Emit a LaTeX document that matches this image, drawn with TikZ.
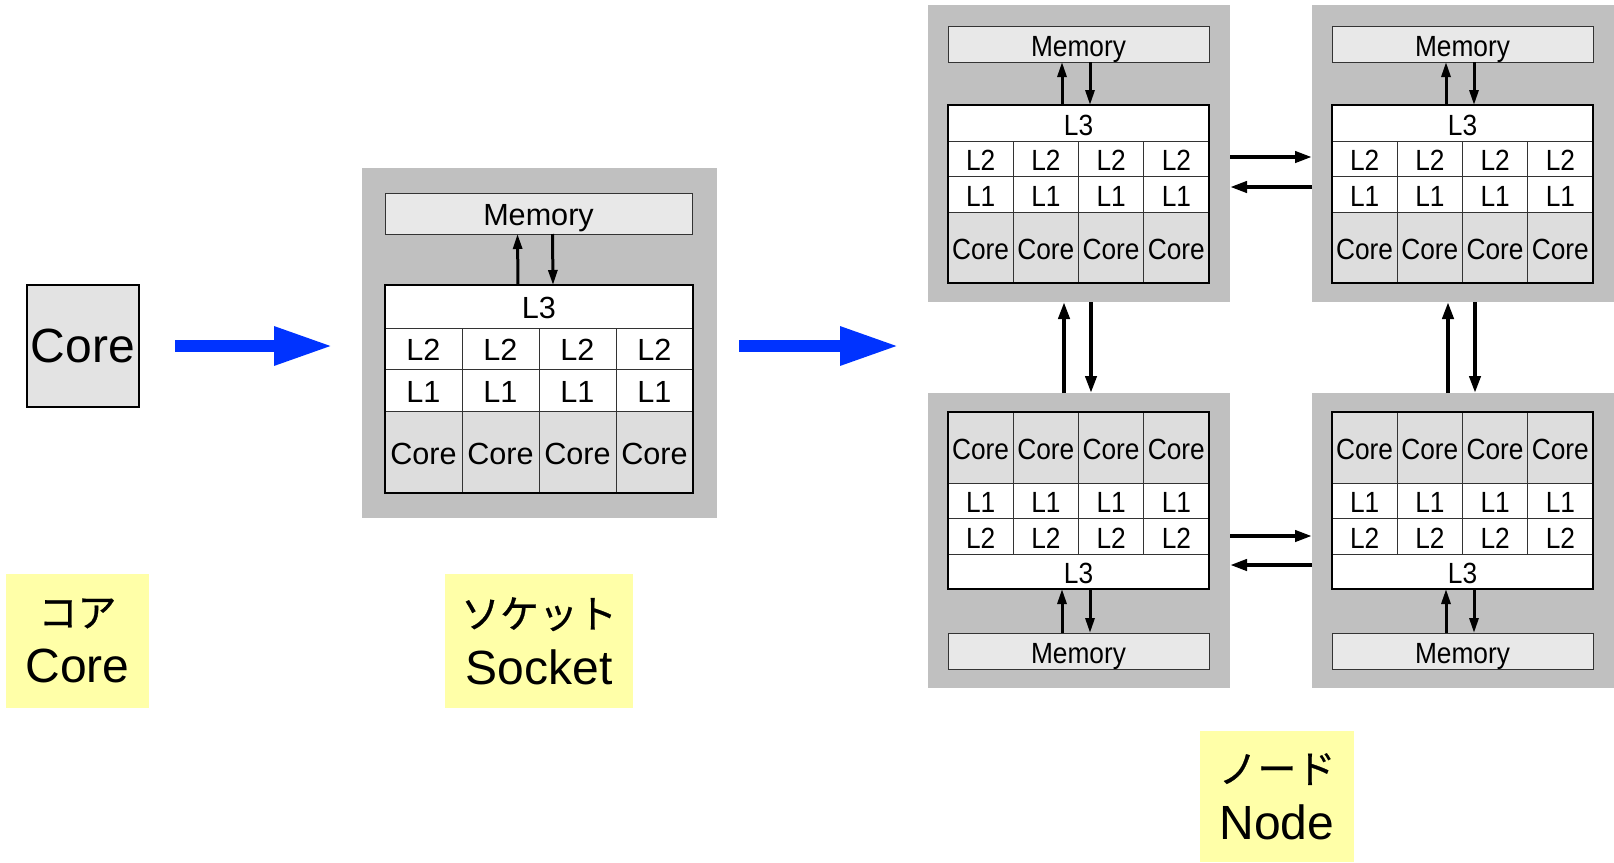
\documentclass[tikz,border=0pt]{standalone}
\usepackage{fontspec}
\setmainfont{Liberation Sans}
\newfontfamily\jpfont{Noto Sans CJK JP}[FakeBold=0.6]
\newfontfamily\narrowfont{Liberation Sans}[FakeStretch=0.9]
\usetikzlibrary{positioning}
\usetikzlibrary{arrows.meta}
\definecolor{boardgray}{RGB}{192,192,192}
\definecolor{memgray}{RGB}{232,232,232}
\definecolor{coregray}{RGB}{221,221,221}
\definecolor{bigcoregray}{RGB}{227,227,227}
\definecolor{notegold}{RGB}{255,255,168}
\definecolor{flowblue}{RGB}{0,51,255}
\tikzset{board/.style = {fill=boardgray, inner sep=0, outer sep=0}}
\tikzset{memcell/.style = {draw=black!80, fill=memgray, line width=0.5pt,
                           inner sep=0, outer sep=0, text height=12pt, text depth=0pt}}
\tikzset{cachecell/.style = {draw=black!80, fill=white, line width=0.5pt, inner sep=0,
                             outer sep=0, anchor=north west, text height=12pt, text depth=0pt}}
\tikzset{corecell/.style = {cachecell, fill=coregray}}
\tikzset{busarrow/.style = {-{Triangle[length=7.5pt,width=4.5pt]}, line width=1.5pt}}
\tikzset{linkarrow/.style = {-{Triangle[length=8.5pt,width=5.5pt]}, line width=2pt}}
\tikzset{flowarrow/.style = {-{Triangle[length=29.5pt,width=18pt]}, line width=6pt, draw=flowblue}}
\tikzset{note/.style = {fill=notegold, inner sep=0, align=center,
                        font=\fontsize{24}{28}\selectfont}}
\tikzset{sockfont/.style = {font=\fontsize{15.3}{17}\selectfont}}
\tikzset{nodefont/.style = {font=\narrowfont\fontsize{14.6}{16}\selectfont}}

\begin{document}
\begin{tikzpicture}[x=0.5pt, y=-0.5pt]
  \useasboundingbox (0,0) rectangle (1614,863);

  % one core
  \node[draw, line width=1pt, fill=bigcoregray, minimum width=56pt, minimum height=61pt,
        inner sep=0, font=\fontsize{24}{27}\selectfont] (core) at (83,346) {Core};

  % one socket: memory, shared L3, private L2/L1 per core
  \node[board, minimum width=177.5pt, minimum height=175pt] (sock) at (539.5,343) {};
  \node[memcell, minimum width=153.5pt, minimum height=20.5pt, sockfont] (smem) at (538.5,213.5) {Memory};
  \node[cachecell, minimum width=154pt, minimum height=21.5pt, sockfont] (sl3) at (385,285) {L3};
  \foreach \i in {0,...,3} {
    \node[cachecell, minimum width=38.5pt, minimum height=20.5pt, sockfont] (sl2-\i) at ({385+77*\i},328) {L2};
    \node[cachecell, minimum width=38.5pt, minimum height=21pt, sockfont] (sl1-\i) at ({385+77*\i},369) {L1};
    \node[corecell, minimum width=38.5pt, minimum height=41pt, sockfont] (score-\i) at ({385+77*\i},411) {Core};
  }
  \draw[line width=1.25pt] (sl3.north west) rectangle (score-3.south east);
  \draw[busarrow] ([xshift=-10.5pt]sl3.north) -- ([xshift=-10.5pt]smem.south);
  \draw[busarrow] ([xshift=7pt]smem.south) -- ([xshift=7pt]sl3.north);

  % one node: four sockets, two columns (a, b)
  \foreach \x/\n in {948/a,1332/b} {
    \node[board, minimum width=151pt, minimum height=148.5pt] (\n-ub) at ({\x+131},153.5) {};
    \node[board, minimum width=151pt, minimum height=147.5pt] (\n-lb) at ({\x+131},540.5) {};
    % upper socket
    \node[memcell, minimum width=130.5pt, minimum height=18pt, nodefont] (\n-umem) at ({\x+130.5},44) {Memory};
    \node[cachecell, minimum width=130.5pt, minimum height=18pt, nodefont] (\n-ul3) at (\x,105) {L3};
    % lower socket
    \node[cachecell, minimum width=130.5pt, minimum height=17.5pt, nodefont] (\n-ll3) at (\x,554) {L3};
    \node[memcell, minimum width=130.5pt, minimum height=18pt, nodefont] (\n-lmem) at ({\x+130.5},651) {Memory};
    \foreach \i in {0,...,3} {
      \node[cachecell, minimum width=32.625pt, minimum height=17.5pt, nodefont] (\n-ul2-\i) at ({\x+65.25*\i},141) {L2};
      \node[cachecell, minimum width=32.625pt, minimum height=18pt, nodefont] (\n-ul1-\i) at ({\x+65.25*\i},176) {L1};
      \node[corecell, minimum width=32.625pt, minimum height=35.5pt, nodefont] (\n-ucore-\i) at ({\x+65.25*\i},212) {Core};
      \node[corecell, minimum width=32.625pt, minimum height=35.5pt, nodefont] (\n-lcore-\i) at ({\x+65.25*\i},412) {Core};
      \node[cachecell, minimum width=32.625pt, minimum height=17.5pt, nodefont] (\n-ll1-\i) at ({\x+65.25*\i},483) {L1};
      \node[cachecell, minimum width=32.625pt, minimum height=18pt, nodefont] (\n-ll2-\i) at ({\x+65.25*\i},518) {L2};
    }
    \draw[line width=1.25pt] (\n-ul3.north west) rectangle (\n-ucore-3.south east);
    \draw[line width=1.25pt] (\n-lcore-0.north west) rectangle (\n-ll3.south east);
    \draw[busarrow] ([xshift=-8.25pt]\n-ul3.north) -- ([xshift=-8.25pt]\n-umem.south);
    \draw[busarrow] ([xshift=5.75pt]\n-umem.south) -- ([xshift=5.75pt]\n-ul3.north);
    \draw[busarrow] ([xshift=-8.25pt]\n-lmem.north) -- ([xshift=-8.25pt]\n-ll3.south);
    \draw[busarrow] ([xshift=5.75pt]\n-ll3.south) -- ([xshift=5.75pt]\n-lmem.north);
    % links between upper and lower socket
    \draw[linkarrow] ([xshift=-7.5pt]\n-lb.north) -- ([xshift=-7.5pt]\n-ub.south);
    \draw[linkarrow] ([xshift=6pt]\n-ub.south) -- ([xshift=6pt]\n-lb.north);
  }

  % links between the two columns
  \draw[linkarrow] ([yshift=-1.75pt]a-ub.east) -- ([yshift=-1.75pt]b-ub.west);
  \draw[linkarrow] ([yshift=-16.75pt]b-ub.west) -- ([yshift=-16.75pt]a-ub.east);
  \draw[linkarrow] ([yshift=2.25pt]a-lb.east) -- ([yshift=2.25pt]b-lb.west);
  \draw[linkarrow] ([yshift=-12.25pt]b-lb.west) -- ([yshift=-12.25pt]a-lb.east);

  % core -> socket -> node
  \draw[flowarrow, shorten <=17.5pt, shorten >=14.5pt] (core.east) -- (core.east -| sock.west);
  \draw[flowarrow, shorten <=11pt, shorten >=14.5pt] (sock.east |- core.east) -- (core.east -| a-ub.west);

  % captions
  \node[note, minimum width=71.5pt, minimum height=67pt] (corenote) at (77.5,641)
    {{\jpfont\fontsize{19.5}{28}\selectfont コア}\\Core};
  \node[note, minimum width=94pt, minimum height=67pt] (socknote) at (539,641)
    {{\jpfont\fontsize{19.5}{28}\selectfont ソケット}\\Socket};
  \node[note, minimum width=77pt, minimum height=65.5pt] (nodenote) at (1277,796.5)
    {{\jpfont\fontsize{19.5}{28}\selectfont ノード}\\Node};
\end{tikzpicture}
\end{document}
